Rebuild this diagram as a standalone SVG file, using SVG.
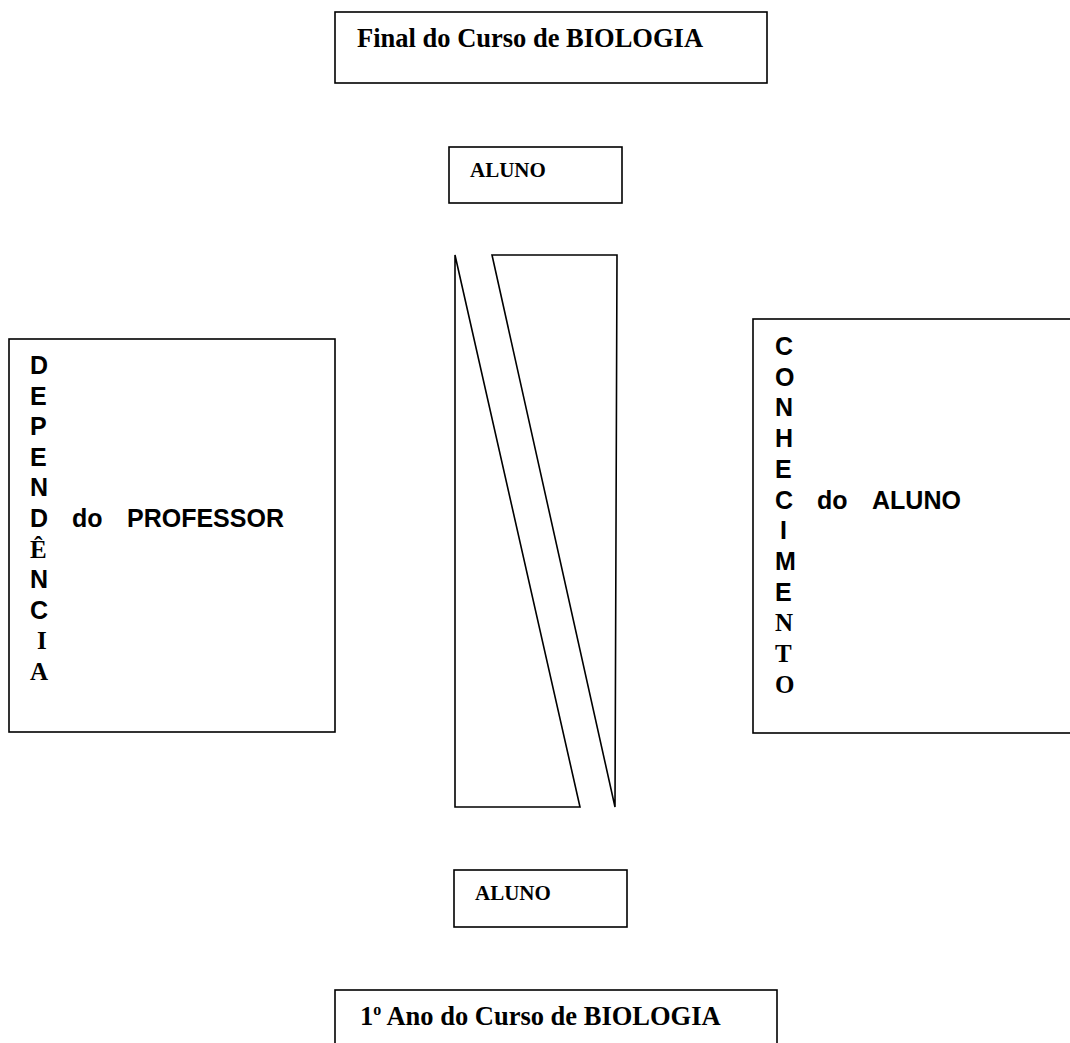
<svg xmlns="http://www.w3.org/2000/svg" width="1070" height="1043" viewBox="0 0 1070 1043">
<style>
.box{fill:#fff;stroke:#000;stroke-width:1.6}
.shape{fill:#fff;stroke:#000;stroke-width:1.6;stroke-linejoin:miter}
.serif{font-family:"Liberation Serif","Times New Roman",serif;font-weight:bold;fill:#000}
.sans{font-family:"Liberation Sans",Arial,sans-serif;font-weight:bold;fill:#000;font-size:25px}
.title{font-size:26.5px}
.small{font-size:21px}
.let{font-size:25px}
</style>
<rect width="1070" height="1043" fill="#fff"/>
<g id="final-curso">
<rect class="box" x="335" y="12" width="432" height="71"/>
<text class="serif title" x="357" y="47">Final do Curso de BIOLOGIA</text>
</g>
<g id="aluno-top">
<rect class="box" x="449" y="147" width="173" height="56"/>
<text class="serif small" x="470" y="177">ALUNO</text>
</g>
<g id="wedges">
<polygon class="shape" points="455,255 455,807 580,807"/>
<polygon class="shape" points="492,255 617,255 615,807"/>
</g>
<g id="dependencia">
<rect class="box" x="9" y="339" width="326" height="393"/>
<text class="sans" x="30" y="374">D</text>
<text class="sans" x="30" y="404.6">E</text>
<text class="sans" x="30" y="435.2">P</text>
<text class="sans" x="30" y="465.8">E</text>
<text class="sans" x="30" y="496.4">N</text>
<text class="sans" x="30" y="527">D</text>
<text class="sans" x="72" y="527">do</text>
<text class="sans" x="127" y="527">PROFESSOR</text>
<text class="serif let" x="30" y="557.6">Ê</text>
<text class="sans" x="30" y="588.2">N</text>
<text class="sans" x="30" y="618.8">C</text>
<text class="serif let" x="37" y="649.4">I</text>
<text class="serif let" x="30" y="680">A</text>
</g>
<g id="conhecimento">
<rect class="box" x="753" y="319" width="330" height="414"/>
<text class="sans" x="775" y="355">C</text>
<text class="sans" x="775" y="385.7">O</text>
<text class="sans" x="775" y="416.4">N</text>
<text class="sans" x="775" y="447.1">H</text>
<text class="sans" x="775" y="477.8">E</text>
<text class="sans" x="775" y="508.5">C</text>
<text class="sans" x="817" y="508.5">do</text>
<text class="sans" x="872" y="508.5">ALUNO</text>
<text class="sans" x="780" y="539.2">I</text>
<text class="sans" x="775" y="569.9">M</text>
<text class="sans" x="775" y="600.6">E</text>
<text class="serif let" x="775" y="631.3">N</text>
<text class="serif let" x="775" y="662">T</text>
<text class="serif let" x="775" y="692.7">O</text>
</g>
<g id="aluno-bottom">
<rect class="box" x="454" y="870" width="173" height="57"/>
<text class="serif small" x="475" y="900">ALUNO</text>
</g>
<g id="primeiro-ano">
<rect class="box" x="335" y="990" width="442" height="70"/>
<text class="serif title" x="360" y="1025">1<tspan font-size="16" dy="-10">o</tspan><tspan dy="10"> Ano do Curso de BIOLOGIA</tspan></text>
</g>
<g id="connectors"/>
</svg>
